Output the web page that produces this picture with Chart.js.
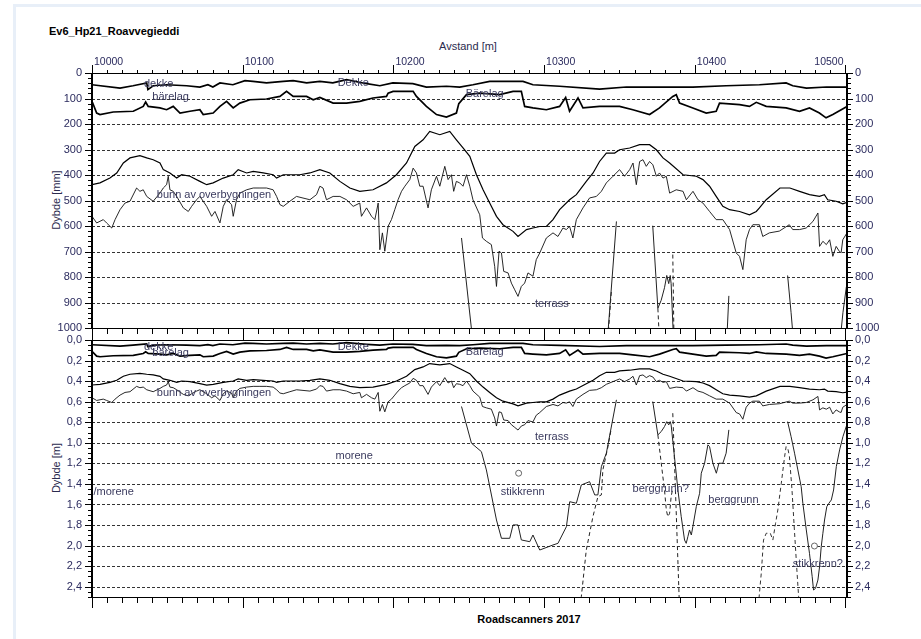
<!DOCTYPE html>
<html><head><meta charset="utf-8">
<script src="https://cdn.jsdelivr.net/npm/chart.js@4.4.0/dist/chart.umd.min.js"></script>
<style>
html,body{margin:0;padding:0;background:#fff;}
#wrap{position:relative;width:921px;height:639px;overflow:hidden;font-family:"Liberation Sans",Arial,sans-serif;}
canvas{position:absolute;left:0;top:0;}
.fT{position:absolute;left:13px;top:4px;width:908px;height:3px;background:#e8eff8;}
.fL{position:absolute;left:13px;top:4px;width:3px;height:635px;background:#e8eff8;}
.title{position:absolute;left:49px;top:25px;font-weight:bold;font-size:11px;color:#000;white-space:nowrap;}
.xt{position:absolute;left:368px;width:200px;top:40px;text-align:center;font-size:11px;color:#2b2b4e;}
.foot{position:absolute;left:429px;width:200px;top:613px;text-align:center;font-size:11px;font-weight:bold;color:#000;}
.yt{position:absolute;font-size:11px;color:#2b2b4e;white-space:nowrap;transform:translate(-50%,-50%) rotate(-90deg);}
</style></head>
<body><div id="wrap">
<div class="fT"></div><div class="fL"></div>
<div class="title">Ev6_Hp21_Roavvegieddi</div>
<div class="xt">Avstand [m]</div>
<div class="yt" style="left:56px;top:200px;">Dybde [mm]</div>
<div class="yt" style="left:56px;top:468px;">Dybde [m]</div>
<div class="foot">Roadscanners 2017</div>
<canvas id="c1" width="921" height="639"></canvas>
<canvas id="c2" width="921" height="639"></canvas>
</div>
<script>
// ---------- axis ranges / tick labels ----------
const xMin = 10000, xMax = 10501;
const xTickVals = [10000, 10100, 10200, 10300, 10400, 10500];
const xTickLabels = ['10000', '10100', '10200', '10300', '10400', '10500'];
const yTicksMm = [0, 100, 200, 300, 400, 500, 600, 700, 800, 900, 1000];
const yTickLabelsMm = ['0', '100', '200', '300', '400', '500', '600', '700', '800', '900', '1000'];
const yTicksM = [0, 0.2, 0.4, 0.6, 0.8, 1.0, 1.2, 1.4, 1.6, 1.8, 2.0, 2.2, 2.4];
const yTickLabelsM = ['0,0', '0,2', '0,4', '0,6', '0,8', '1,0', '1,2', '1,4', '1,6', '1,8', '2,0', '2,2', '2,4'];

// ---------- layer interfaces [distance m, depth mm] ----------
const dekke = [[10000,46],[10018.6,59],[10027.2,50],[10036.3,39],[10037.1,65],[10040.6,50],[10049.5,46],[10062.8,50],[10071.6,55],[10076.9,46],[10080.2,55],[10084.9,39],[10093.5,46],[10101.5,30],[10106.8,33],[10115.8,39],[10126.9,33],[10133.5,30],[10142.4,39],[10151.2,33],[10159.8,39],[10168.9,26],[10182.2,42],[10191,50],[10199.6,39],[10212.9,42],[10221.9,55],[10235.2,52],[10244,55],[10252.8,46],[10263.9,33],[10272.7,33],[10286,33],[10292.6,46],[10310.3,52],[10336.8,63],[10354.6,55],[10377.5,55],[10398.7,55],[10420.8,50],[10442.9,46],[10460.6,39],[10465,50],[10474.1,59],[10487.4,55],[10501,55]];
const baerelag = [[10000,111],[10003.1,157],[10005.3,163],[10014.1,153],[10027.4,150],[10034,131],[10035.6,114],[10037.3,131],[10045.1,137],[10049.5,144],[10053.9,131],[10058.4,157],[10065,150],[10071.6,144],[10073.8,163],[10080.4,157],[10084.9,131],[10089.3,111],[10093.7,137],[10098.1,118],[10104.8,105],[10115.8,102],[10124.7,92],[10129.1,72],[10133.5,92],[10142.4,92],[10146.8,105],[10151.2,96],[10160,118],[10168.9,118],[10177.7,111],[10186.5,98],[10195.4,92],[10196.5,79],[10199.8,72],[10213.1,72],[10215.3,92],[10221.9,131],[10228.6,163],[10235.2,173],[10241.8,157],[10243.4,120],[10248.5,85],[10257.3,79],[10270.5,85],[10279.4,72],[10284.9,72],[10287.1,131],[10292.6,137],[10301.5,144],[10310.3,131],[10314.3,96],[10316.9,150],[10322.5,98],[10325.8,137],[10336.8,131],[10350.1,131],[10358.9,144],[10370,163],[10376.6,137],[10385.4,92],[10387.7,85],[10389.9,118],[10398.7,137],[10407.6,157],[10414.2,150],[10416.4,118],[10429.7,124],[10436.3,131],[10440.8,115],[10447.4,131],[10460.6,137],[10469.5,150],[10476.1,137],[10482.7,157],[10487.1,176],[10491.6,163],[10501,131]];
const ovreGrense = [[10000,438],[10005.3,431],[10011.9,412],[10016.4,392],[10020.8,353],[10025.2,333],[10031.8,324],[10036.3,333],[10040.6,340],[10045.1,353],[10047.3,379],[10051.7,392],[10056.2,412],[10059.5,399],[10065,405],[10071.6,425],[10076.1,438],[10080.4,431],[10087.1,412],[10093.7,399],[10097,379],[10102.6,392],[10107,386],[10113.6,392],[10120.2,399],[10122.5,412],[10126.9,399],[10137.9,399],[10144.6,392],[10151.2,379],[10157.8,392],[10164.5,425],[10171.1,451],[10177.7,464],[10186.5,458],[10195.4,431],[10202,399],[10208.7,353],[10214.2,288],[10219.7,262],[10224.1,229],[10230.8,242],[10237.4,229],[10241.8,262],[10246.2,294],[10250.7,327],[10255.1,399],[10259.5,458],[10263.9,510],[10268.4,562],[10272.7,595],[10279.4,621],[10282.7,641],[10288.3,614],[10292.6,608],[10297.1,602],[10301.5,602],[10305.9,575],[10310.3,536],[10316.9,497],[10321.4,477],[10328,425],[10332.5,392],[10336.8,347],[10341.3,314],[10346.8,314],[10350.1,301],[10356.8,294],[10363.4,281],[10370,281],[10374.5,301],[10378.9,333],[10383.3,353],[10392.2,399],[10401,405],[10405.4,418],[10409.8,444],[10414.2,484],[10418.6,523],[10423.1,536],[10429.7,543],[10436.3,556],[10440.8,543],[10442.9,529],[10447.4,497],[10456.5,451],[10463.1,451],[10469.5,464],[10476.1,477],[10482.7,484],[10486,477],[10488.2,497],[10493.8,503],[10498.2,513],[10501,507]];
const bunnOverbygning = [[10000,562],[10003.1,588],[10007.5,575],[10009.7,588],[10013.1,608],[10015.3,575],[10018.6,536],[10021.9,510],[10025.2,503],[10029.6,451],[10031.8,464],[10034,458],[10036.3,484],[10040.6,503],[10045.1,471],[10047.3,451],[10049.5,438],[10050.6,405],[10051.7,458],[10053.9,464],[10056.2,484],[10060.6,529],[10063.9,543],[10066.1,523],[10069.4,497],[10071.6,484],[10076.1,523],[10079.4,562],[10081.6,543],[10084.9,588],[10087.1,523],[10089.3,497],[10092.6,516],[10093.7,562],[10095.9,497],[10098.1,471],[10102.6,458],[10107,451],[10111.4,451],[10115.8,451],[10120.2,458],[10122.5,484],[10124.7,516],[10126.9,523],[10131.3,503],[10135.7,484],[10144.6,497],[10149,477],[10151.2,444],[10153.3,451],[10155.6,497],[10160,484],[10164.5,484],[10168.9,497],[10173.3,523],[10177.7,510],[10178.8,562],[10182.2,529],[10185.5,562],[10187.7,575],[10189.9,510],[10191,693],[10192.7,627],[10194.3,699],[10196.5,601],[10198.7,575],[10200.9,536],[10203.1,497],[10205.4,464],[10207.6,444],[10210.9,418],[10213.1,373],[10215.3,392],[10217.5,444],[10219.7,444],[10223,529],[10225.2,458],[10228.6,405],[10230.8,444],[10234.1,366],[10236.3,418],[10238.5,399],[10240,464],[10241.8,425],[10244,431],[10246.2,444],[10248.5,399],[10250.7,444],[10252.8,497],[10257.3,556],[10259.1,647],[10261.7,660],[10265,673],[10267.2,758],[10268.4,837],[10270.1,699],[10271.7,706],[10273.2,778],[10276.1,784],[10278.3,824],[10280.5,850],[10282.7,876],[10284.9,837],[10287.1,824],[10289.3,784],[10292.6,797],[10294.8,732],[10297.1,706],[10301.5,647],[10305.9,627],[10309.2,641],[10312.5,608],[10314.8,614],[10316.9,601],[10319.1,647],[10321.4,575],[10325.8,529],[10330.2,490],[10334.7,484],[10338,464],[10341.3,431],[10345.7,405],[10350.1,379],[10353.4,405],[10356.8,379],[10359,353],[10361.2,438],[10363.4,347],[10365.6,340],[10367.8,366],[10370,347],[10372.2,360],[10374.5,405],[10376.6,392],[10378.9,412],[10381.1,405],[10383.3,471],[10387.7,458],[10392.2,464],[10394.4,497],[10398.8,464],[10402.1,497],[10405.4,510],[10409.8,543],[10414.2,575],[10418.6,575],[10423.1,614],[10427.5,706],[10429.7,719],[10431.9,771],[10434.1,654],[10436.3,614],[10438.5,595],[10442.9,595],[10445.1,641],[10449.5,627],[10456.1,620],[10462.7,595],[10465,614],[10469.5,614],[10473.9,608],[10478.4,582],[10481.7,549],[10482.8,680],[10485,660],[10487.3,673],[10489.5,654],[10491.6,719],[10493.8,680],[10496,700],[10497.1,705],[10498.2,654],[10501,627]];

// ---------- deep interfaces [distance m, depth m] ----------
const stikkrenn = [[10245.2,0.647],[10251.8,1.004],[10258.4,1.086],[10261.7,1.264],[10268.4,1.751],[10271.7,1.929],[10277.2,1.929],[10279.4,1.799],[10282.7,1.799],[10284.9,1.945],[10290.5,1.962],[10292.6,1.897],[10297.1,2.043],[10305.9,1.994],[10309.2,1.978],[10314.8,1.816],[10317,1.573],[10321.4,1.588],[10324.7,1.41],[10330.2,1.378],[10333.6,1.507],[10335.7,1.507],[10338,1.232],[10341.3,1.101],[10348,0.582]];
const terrassDash = [[10323.6,2.65],[10324.7,2.497],[10328,2.043],[10332.4,1.719],[10335.7,1.524],[10338,1.507],[10339,1.264],[10342.4,1.037],[10344.6,0.858]];
const berggrunn = [[10372.1,0.599],[10375.5,0.923],[10377.7,0.891],[10379.9,0.842],[10381.4,0.794],[10382.7,0.826],[10383.7,0.794],[10384.3,0.826],[10386.5,1.134],[10388.8,1.459],[10391,1.719],[10393.2,1.946],[10394.3,1.978],[10395.4,1.913],[10396.5,1.848],[10397.7,1.897],[10398.7,1.816],[10401,1.621],[10403.2,1.491],[10404.3,1.296],[10406.5,1.199],[10408.7,1.02],[10409.8,1.037],[10412,1.199],[10414.3,1.296],[10416,1.199],[10418.6,1.199],[10420.8,1.101],[10422.6,0.874]];
const berggrunnQ1 = [[10375.5,0.923],[10378.8,1.329],[10379.9,1.459],[10381.1,1.653],[10382.1,1.719],[10383.3,1.686],[10384.3,1.524],[10385.4,1.442]];
const berggrunnQ2 = [[10385.4,0.712],[10387.5,1.6],[10389.6,2.5],[10389.8,2.65]];
const stikkrennQ = [[10461.6,0.794],[10463.9,0.94],[10466.2,1.101],[10468.4,1.264],[10470.6,1.427],[10471.7,1.588],[10474,1.848],[10476.1,2.075],[10477.9,2.303],[10478.8,2.432],[10480.1,2.416],[10481.7,2.335],[10482.8,2.205],[10483.9,2.011],[10485,1.88],[10486.1,1.751],[10487.6,1.621],[10489,1.588],[10490.6,1.556],[10492.1,1.459],[10493.9,1.232],[10496.1,1.069],[10498.3,0.94],[10500.5,0.842],[10501.6,0.809]];
const stikkrennQDash = [[10442.3,2.65],[10442.5,2.53],[10444.1,2.27],[10445.6,1.946],[10447.4,1.88],[10450.1,1.88],[10451.8,1.946],[10453.6,1.783],[10455.1,1.653],[10457.4,1.393],[10459.6,1.134],[10460.6,1.037],[10461.7,1.053],[10462.8,1.134],[10464.5,1.459],[10466.1,1.848],[10467.6,2.205],[10468.9,2.498],[10469.2,2.65]];
const culverts = [[10283.1,1.296],[10479.4,2.004]];

// ---------- in-plot notes [text, distance, depth] ----------
const notesTop = [['dekke',10034.5,42],['bärelag',10040,95],['Dekke',10163,38],['Bärelag',10248,81],['bunn av overbygningen',10043,478],['terrass',10294,905]];
const notesBottom = [['dekke',10034.5,0.066],['bärelag',10040,0.125],['Dekke',10163,0.063],['Bärelag',10248,0.118],['bunn av overbygningen',10043,0.519],['terrass',10294,0.943],['morene',10161.6,1.128],['/morene',10001,1.483],['stikkrenn',10271.2,1.483],['berggrunn?',10358.7,1.45],['berggrunn',10409,1.556],['stikkrenn?',10465,2.18]];

const FONT = '"Liberation Sans", Arial, sans-serif';
Chart.defaults.font.family = FONT;
const LBL = '#2b2b5e';

function ds(arr, f, w, color, dash) {
  return {data: arr.map(p => ({x: p[0], y: p[1] * f})), borderColor: color, borderWidth: w,
    borderDash: dash || [], pointRadius: 0, pointHoverRadius: 0, tension: 0, fill: false};
}
function datasets(fmm) {
  const fm = fmm * 1000;
  return [
    ds(dekke, fmm, 1.7, '#000'), ds(baerelag, fmm, 1.7, '#000'),
    ds(ovreGrense, fmm, 1.2, '#000'), ds(bunnOverbygning, fmm, 0.9, '#111'),
    ds(stikkrenn, fm, 1, '#222'), ds(terrassDash, fm, 1, '#222', [4, 3]),
    ds(berggrunn, fm, 1, '#222'), ds(berggrunnQ1, fm, 1, '#222', [4, 3]),
    ds(berggrunnQ2, fm, 1, '#222', [4, 3]),
    ds(stikkrennQ, fm, 1, '#222'), ds(stikkrennQDash, fm, 1, '#333', [4, 3]),
    {data: culverts.map(p => ({x: p[0], y: p[1] * fm})), showLine: false, pointRadius: 3,
      pointBorderColor: '#666', pointBackgroundColor: '#fff', pointBorderWidth: 1, borderColor: '#666'}
  ];
}

const deco = {
  id: 'deco',
  beforeDatasetsDraw(chart, args, o) {
    const {ctx, chartArea: a} = chart, y = chart.scales.y;
    ctx.save(); ctx.strokeStyle = '#333'; ctx.lineWidth = 1; ctx.setLineDash([3, 2]);
    o.grid.forEach(v => {
      const py = Math.round(y.getPixelForValue(v)) + 0.5;
      ctx.beginPath(); ctx.moveTo(a.left, py); ctx.lineTo(a.right, py); ctx.stroke();
    });
    ctx.restore();
  },
  afterDatasetsDraw(chart, args, o) {
    const {ctx, chartArea: a} = chart, x = chart.scales.x, y = chart.scales.y;
    const seg = (x1, y1, x2, y2) => { ctx.beginPath(); ctx.moveTo(x1, y1); ctx.lineTo(x2, y2); ctx.stroke(); };
    ctx.save();
    ctx.strokeStyle = '#000'; ctx.lineWidth = 1;
    const L = Math.round(a.left), R = Math.round(a.right), T = Math.round(a.top), B = Math.round(a.bottom);
    seg(L, T + 0.5, R, T + 0.5); seg(L, B + 0.5, R, B + 0.5);
    ctx.lineWidth = 2; seg(L, T, L, B + 1); seg(R, T, R, B + 1);
    ctx.lineWidth = 1;
    // x ticks every 10 m
    for (let i = 0; i <= 50; i++) {
      const v = xMin + i * 10, px = Math.round(x.getPixelForValue(v)) + 0.5, major = i % 10 === 0;
      if (o.xTop) seg(px, T, px, T - (major ? 8 : 3));
      if (o.xBot) seg(px, B + 1, px, B + 1 + (major ? o.xBot[1] : o.xBot[0]));
    }
    // y ticks
    for (let i = 0; i <= o.nMinor; i++) {
      const v = i * o.minorStep, py = Math.round(y.getPixelForValue(v)) + 0.5, major = i % o.majorEvery === 0;
      seg(L - 1, py, L - 1 - (major ? 6 : 3), py);
      seg(R + 1, py, R + 1 + (major ? 5 : 3), py);
    }
    // top x labels
    if (o.xTop) {
      ctx.font = '10.5px ' + FONT; ctx.fillStyle = LBL; ctx.textBaseline = 'alphabetic';
      xTickVals.forEach((v, i) => {
        const px = x.getPixelForValue(v);
        if (i === xTickVals.length - 1) { ctx.textAlign = 'right'; ctx.fillText(xTickLabels[i], px - 2, T - 8); }
        else { ctx.textAlign = 'left'; ctx.fillText(xTickLabels[i], px + 2, T - 8); }
      });
    }
    // notes
    ctx.font = '11px ' + FONT; ctx.fillStyle = '#3a3a5e'; ctx.textAlign = 'left'; ctx.textBaseline = 'middle';
    o.notes.forEach(n => ctx.fillText(n[0], x.getPixelForValue(n[1]), y.getPixelForValue(n[2])));
    ctx.restore();
  }
};

function yAxis(pos, ymin, ymax, ticks, labels) {
  return {type: 'linear', position: pos, reverse: true, min: ymin, max: ymax,
    afterBuildTicks: s => { s.ticks = ticks.map(v => ({value: v})); },
    afterFit: s => { s.width = pos === 'left' ? 92 : 74; },
    grid: {display: false, drawTicks: false}, border: {display: false},
    ticks: {padding: pos === 'left' ? 10 : 8, autoSkip: false, color: LBL, font: {size: 11},
      callback: (v, i) => labels[i]}};
}

function makeChart(id, cfg) {
  return new Chart(document.getElementById(id), {
    type: 'line',
    data: {datasets: cfg.datasets},
    options: {
      responsive: false, animation: false, devicePixelRatio: 1,
      layout: {padding: {top: cfg.top, bottom: cfg.bottom, left: 0, right: 0}},
      plugins: {legend: {display: false}, tooltip: {enabled: false}, deco: cfg.deco},
      scales: {
        x: {type: 'linear', min: xMin, max: xMax, display: false},
        y: yAxis('left', cfg.ymin, cfg.ymax, cfg.ticks, cfg.labels),
        y2: yAxis('right', cfg.ymin, cfg.ymax, cfg.ticks, cfg.labels)
      }
    },
    plugins: [deco]
  });
}

makeChart('c1', {datasets: datasets(1), top: 73, bottom: 639 - 328, ymin: 0, ymax: 1000,
  ticks: yTicksMm, labels: yTickLabelsMm,
  deco: {grid: yTicksMm, xTop: true, xBot: [5, 11], nMinor: 50, minorStep: 20, majorEvery: 5, notes: notesTop}});
makeChart('c2', {datasets: datasets(0.001), top: 340, bottom: 639 - 597, ymin: 0, ymax: 2.5,
  ticks: yTicksM, labels: yTickLabelsM,
  deco: {grid: yTicksM, xTop: false, xBot: [5, 10], nMinor: 50, minorStep: 0.05, majorEvery: 4, notes: notesBottom}});
</script>
</body></html>
